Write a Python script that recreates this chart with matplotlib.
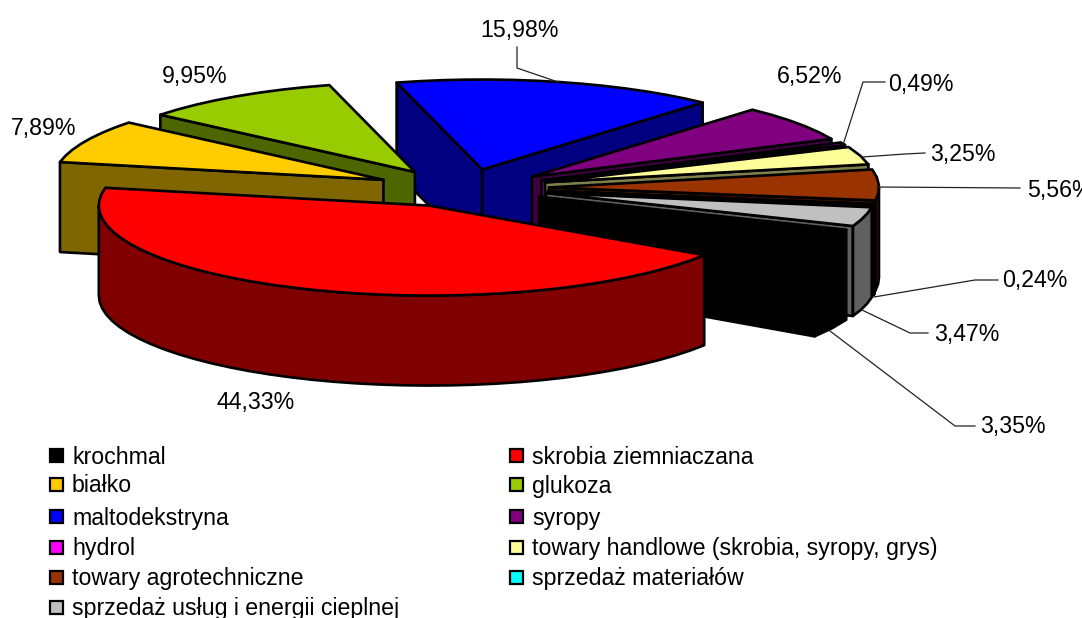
"""
Exploded 3D pie chart of sales structure, drawn as polygons on a pixel sized axes.
"""
#%% Import libraries ###########################################################
import numpy as np
import matplotlib
matplotlib.use('Agg')
import matplotlib.pyplot as plt
from matplotlib.patches import Polygon, Rectangle

#%% Data #######################################################################
names = ['krochmal', 'skrobia ziemniaczana', 'białko', 'glukoza', 'maltodekstryna',
         'syropy', 'hydrol', 'towary handlowe (skrobia, syropy, grys)',
         'towary agrotechniczne', 'sprzedaż materiałów',
         'sprzedaż usług i energii cieplnej']
values = [3.35, 44.33, 7.89, 9.95, 15.98, 6.52, 0.49, 3.25, 5.56, 0.24, 3.47]
colors = ['#000000', '#FF0000', '#FFCC00', '#99CC00', '#0000FF', '#800080',
          '#FF00FF', '#FFFF99', '#993300', '#00FFFF', '#C0C0C0']
value_labels = ['3,35%', '44,33%', '7,89%', '9,95%', '15,98%', '6,52%', '0,49%',
                '3,25%', '5,56%', '0,24%', '3,47%']
label_pos = [(1013, 426), (256, 403), (44, 129), (195, 77), (520, 30), (810, 77),
             (921, 84), (963, 155), (1060, 191), (1035, 281), (967, 334)]
leaders = [[(975, 426), (955, 426), (830, 331)],
           [(517, 47), (517, 68), (558, 82)],
           [(885, 82), (863, 82), (843, 145)],
           [(925, 153), (905, 154), (862, 157)],
           [(1020, 188), (877, 187)],
           [(998, 280), (975, 280), (874, 297)],
           [(928, 333), (910, 333), (862, 310)]]

# back to front
draw_order = [4, 3, 5, 6, 2, 7, 8, 9, 10, 0, 1]
start_angle = 21.5
cx, cy = 462, 188
rx, ry = 330, 90
ex, ey = 87, 19
depth = 90
font_size = 16.7
edge_lw = 1.9

#%% Helpers ####################################################################
def shade(color):
    """
    Side walls are the top colour at half brightness
    """
    rgb = np.array(matplotlib.colors.to_rgb(color))
    return tuple(rgb * 0.5)

def rim(ax_x, ax_y, a, b):
    """
    Points of the ellipse rim between two angles (degrees, clockwise on screen)
    """
    n = max(int(abs(b - a) / 4), 1) + 1
    t = np.radians(np.linspace(a, b, n))
    return np.column_stack([ax_x + rx * np.cos(t), ax_y + ry * np.sin(t)])

def draw_slice(ax, a, b, color):
    """
    Draws a slice: cut faces, outer wall, then top
    """
    mid = np.radians((a + b) / 2)
    x0 = cx + ex * np.cos(mid)
    y0 = cy + ey * np.sin(mid)
    side = shade(color)
    down = np.array([0, depth])

    # Cut faces
    for ang, visible in ((a, np.cos(np.radians(a)) < 0), (b, np.cos(np.radians(b)) > 0)):
        if visible:
            p = rim(x0, y0, ang, ang)[0]
            apex = np.array([x0, y0])
            ax.add_patch(Polygon([apex, p, p + down, apex + down], closed=True,
                                 fc=side, ec='k', lw=edge_lw, joinstyle='round'))

    # Outer wall, only the part that faces the viewer
    for shift in (0, 360, -360):
        lo, hi = max(a + shift, 0), min(b + shift, 180)
        if lo < hi:
            pts = rim(x0, y0, lo, hi)
            ax.add_patch(Polygon(np.vstack([pts, pts[::-1] + down]), closed=True,
                                 fc=side, ec='k', lw=edge_lw, joinstyle='round'))

    # Top
    pts = np.vstack([[x0, y0], rim(x0, y0, a, b)])
    ax.add_patch(Polygon(pts, closed=True, fc=color, ec='k', lw=edge_lw, joinstyle='round'))

#%% Main #######################################################################
def main():
    plt.rcParams['font.family'] = ['Liberation Sans', 'DejaVu Sans']
    fig = plt.figure(figsize=(10.82, 6.18), dpi=100)
    ax = fig.add_axes([0, 0, 1, 1])
    ax.set_xlim(0, 1082)
    ax.set_ylim(618, 0)
    ax.axis('off')

    #### Pie ####
    sweep = np.array(values) / np.sum(values) * 360
    edges = start_angle + np.concatenate([[0], np.cumsum(sweep)])
    for i in draw_order:
        draw_slice(ax, edges[i], edges[i + 1], colors[i])

    #### Value labels and leader lines ####
    for txt, (x, y) in zip(value_labels, label_pos):
        ax.text(x, y, txt, fontsize=font_size, ha='center', va='center', color='k')
    for line in leaders:
        xs, ys = zip(*line)
        ax.plot(xs, ys, color='#222222', lw=0.9)

    #### Legend ####
    rows = [457, 486, 518, 549, 579, 609]
    for i, name in enumerate(names):
        col_x = 50 if i % 2 == 0 else 510
        y = rows[i // 2]
        ax.add_patch(Rectangle((col_x, y - 8), 13, 13, fc=colors[i], ec='k', lw=1.6))
        ax.text(col_x + 22, y, name, fontsize=font_size, ha='left', va='center', color='k')

    fig.savefig('out.png', dpi=100)

#%% Run main ###################################################################
if __name__ == '__main__':
    main()
